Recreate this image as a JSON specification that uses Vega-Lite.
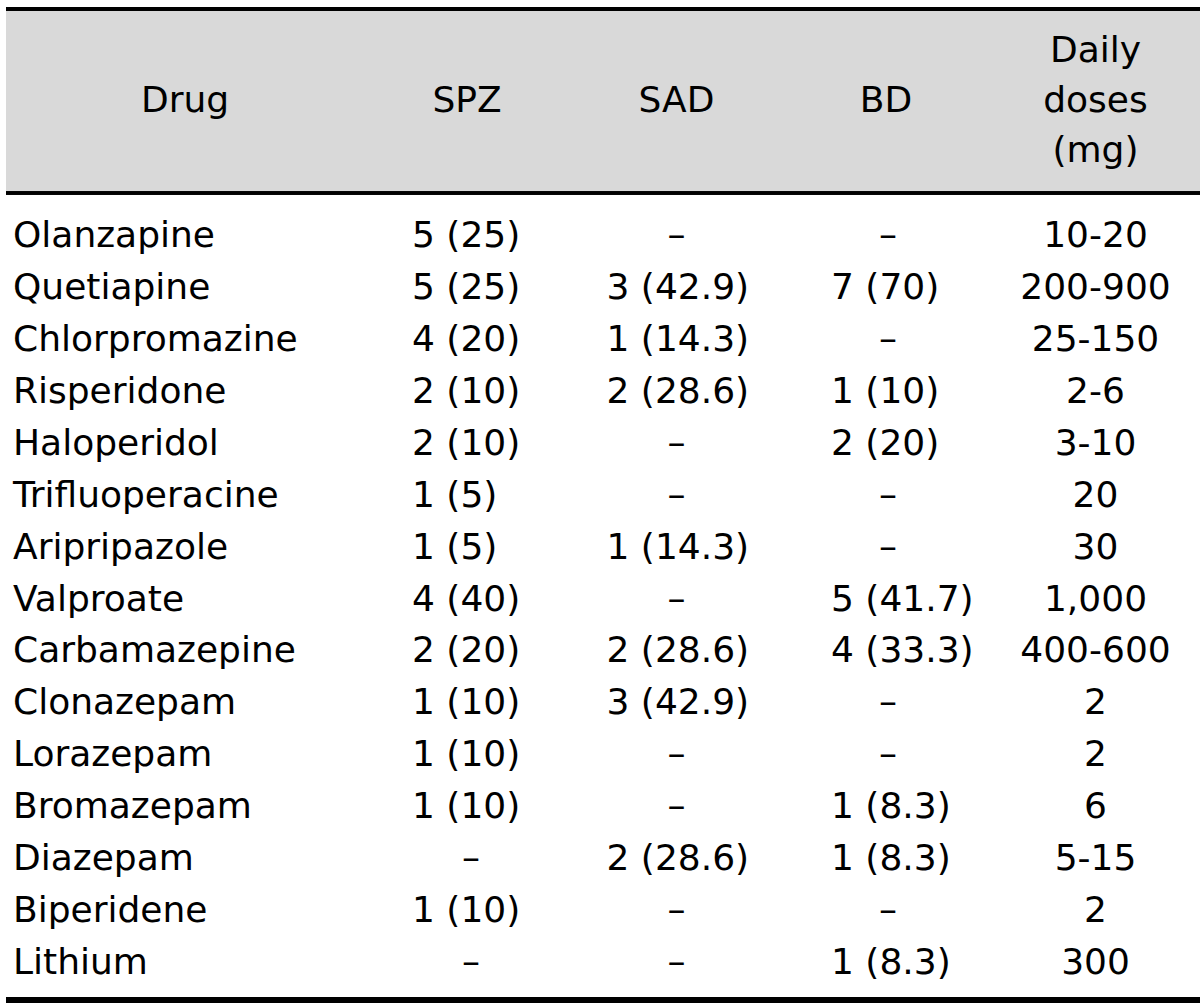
{
  "$schema": "https://vega.github.io/schema/vega-lite/v6.json",
  "padding": {"top": 7, "left": 3, "right": 3, "bottom": 0},
  "spacing": 0,
  "config": {
    "view": {"stroke": null},
    "text": {"font": "DejaVu Sans", "fontSize": 36, "color": "#000000"}
  },
  "datasets": {
    "header": [
      {"col": "Drug", "label": "Drug"},
      {"col": "SPZ", "label": "SPZ"},
      {"col": "SAD", "label": "SAD"},
      {"col": "BD", "label": "BD"},
      {"col": "Daily doses (mg)", "label": ["Daily", "doses", "(mg)"]}
    ],
    "rows": [
      {"drug": "Olanzapine", "SPZ": "5 (25)", "SAD": "–", "BD": "–", "dose": "10-20"},
      {"drug": "Quetiapine", "SPZ": "5 (25)", "SAD": "3 (42.9)", "BD": "7 (70)", "dose": "200-900"},
      {"drug": "Chlorpromazine", "SPZ": "4 (20)", "SAD": "1 (14.3)", "BD": "–", "dose": "25-150"},
      {"drug": "Risperidone", "SPZ": "2 (10)", "SAD": "2 (28.6)", "BD": "1 (10)", "dose": "2-6"},
      {"drug": "Haloperidol", "SPZ": "2 (10)", "SAD": "–", "BD": "2 (20)", "dose": "3-10"},
      {"drug": "Trifluoperacine", "SPZ": "1 (5)", "SAD": "–", "BD": "–", "dose": "20"},
      {"drug": "Aripripazole", "SPZ": "1 (5)", "SAD": "1 (14.3)", "BD": "–", "dose": "30"},
      {"drug": "Valproate", "SPZ": "4 (40)", "SAD": "–", "BD": "5 (41.7)", "dose": "1,000"},
      {"drug": "Carbamazepine", "SPZ": "2 (20)", "SAD": "2 (28.6)", "BD": "4 (33.3)", "dose": "400-600"},
      {"drug": "Clonazepam", "SPZ": "1 (10)", "SAD": "3 (42.9)", "BD": "–", "dose": "2"},
      {"drug": "Lorazepam", "SPZ": "1 (10)", "SAD": "–", "BD": "–", "dose": "2"},
      {"drug": "Bromazepam", "SPZ": "1 (10)", "SAD": "–", "BD": "1 (8.3)", "dose": "6"},
      {"drug": "Diazepam", "SPZ": "–", "SAD": "2 (28.6)", "BD": "1 (8.3)", "dose": "5-15"},
      {"drug": "Biperidene", "SPZ": "1 (10)", "SAD": "–", "BD": "–", "dose": "2"},
      {"drug": "Lithium", "SPZ": "–", "SAD": "–", "BD": "1 (8.3)", "dose": "300"}
    ]
  },
  "vconcat": [
    {
      "width": 1194,
      "height": 184,
      "view": {"fill": "#d9d9d9", "stroke": null},
      "data": {"name": "header"},
      "layer": [
        {
          "transform": [{"filter": "datum.col === 'Drug'"}],
          "mark": {"type": "text", "align": "center", "baseline": "middle", "dx": -72.5},
          "encoding": {
            "x": {"field": "col", "type": "nominal", "axis": null,
                  "scale": {"type": "point", "domain": ["Drug", "SPZ", "SAD", "BD", "Daily doses (mg)"], "range": [251.5, 1089.5], "padding": 0}},
            "text": {"field": "label"}
          }
        },
        {
          "transform": [{"filter": "datum.col === 'SPZ' || datum.col === 'SAD' || datum.col === 'BD'"}],
          "mark": {"type": "text", "align": "center", "baseline": "middle"},
          "encoding": {
            "x": {"field": "col", "type": "nominal", "axis": null},
            "text": {"field": "label"}
          }
        },
        {
          "transform": [{"filter": "datum.col === 'Daily doses (mg)'"}],
          "mark": {"type": "text", "align": "center", "baseline": "middle", "lineHeight": 50, "dy": -50},
          "encoding": {
            "x": {"field": "col", "type": "nominal", "axis": null},
            "text": {"field": "label"}
          }
        },
        {
          "mark": {"type": "rule", "strokeWidth": 4, "color": "#000000"},
          "encoding": {"y": {"value": 0}}
        },
        {
          "mark": {"type": "rule", "strokeWidth": 3, "color": "#000000"},
          "encoding": {"y": {"value": 184}}
        }
      ]
    },
    {
      "width": 1194,
      "height": 805,
      "data": {"name": "rows"},
      "encoding": {
        "y": {"field": "drug", "type": "nominal", "axis": null, "sort": null,
              "scale": {"type": "point", "range": [40, 767], "padding": 0}}
      },
      "layer": [
        {
          "mark": {"type": "text", "align": "left", "baseline": "alphabetic", "dy": 12, "dx": -244.5},
          "encoding": {
            "x": {"datum": "Drug", "type": "nominal", "axis": null,
                  "scale": {"type": "point", "domain": ["Drug", "SPZ", "SAD", "BD", "Daily doses (mg)"], "range": [251.5, 1089.5], "padding": 0}},
            "text": {"field": "drug"}
          }
        },
        {
          "transform": [{"filter": "datum.SPZ !== '–'"}],
          "mark": {"type": "text", "align": "left", "baseline": "alphabetic", "dy": 12, "dx": -55},
          "encoding": {"x": {"datum": "SPZ", "type": "nominal"}, "text": {"field": "SPZ"}}
        },
        {
          "transform": [{"filter": "datum.SPZ === '–'"}],
          "mark": {"type": "text", "align": "center", "baseline": "alphabetic", "dy": 12, "dx": 4},
          "encoding": {"x": {"datum": "SPZ", "type": "nominal"}, "text": {"field": "SPZ"}}
        },
        {
          "transform": [{"filter": "datum.SAD !== '–'"}],
          "mark": {"type": "text", "align": "left", "baseline": "alphabetic", "dy": 12, "dx": -70},
          "encoding": {"x": {"datum": "SAD", "type": "nominal"}, "text": {"field": "SAD"}}
        },
        {
          "transform": [{"filter": "datum.SAD === '–'"}],
          "mark": {"type": "text", "align": "center", "baseline": "alphabetic", "dy": 12, "dx": 0},
          "encoding": {"x": {"datum": "SAD", "type": "nominal"}, "text": {"field": "SAD"}}
        },
        {
          "transform": [{"filter": "datum.BD !== '–'"}],
          "mark": {"type": "text", "align": "left", "baseline": "alphabetic", "dy": 12, "dx": -55},
          "encoding": {"x": {"datum": "BD", "type": "nominal"}, "text": {"field": "BD"}}
        },
        {
          "transform": [{"filter": "datum.BD === '–'"}],
          "mark": {"type": "text", "align": "center", "baseline": "alphabetic", "dy": 12, "dx": 2},
          "encoding": {"x": {"datum": "BD", "type": "nominal"}, "text": {"field": "BD"}}
        },
        {
          "mark": {"type": "text", "align": "center", "baseline": "alphabetic", "dy": 12},
          "encoding": {"x": {"datum": "Daily doses (mg)", "type": "nominal"}, "text": {"field": "dose"}}
        },
        {
          "mark": {"type": "rule", "strokeWidth": 5, "color": "#000000"},
          "encoding": {"y": {"value": 805}}
        }
      ]
    }
  ]
}
